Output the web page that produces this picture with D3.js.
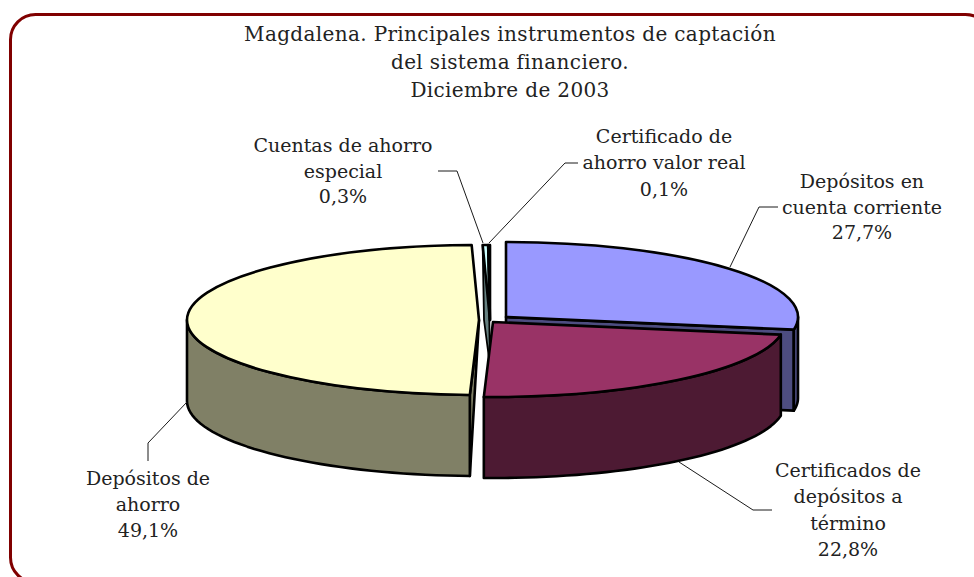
<!DOCTYPE html>
<html>
<head>
<meta charset="utf-8">
<script src="https://cdn.jsdelivr.net/npm/d3@7"></script>
<style>
  body { margin: 0; background: #fff; }
  svg { display: block; }
  text { font-family: "DejaVu Serif", serif; font-size: 19px; fill: #222; text-anchor: middle; }
  .title { font-size: 20px; letter-spacing: 0.35px; }
</style>
</head>
<body>
<div id="chart"></div>
<script>
var titleLines = ["Magdalena. Principales instrumentos de captación", "del sistema financiero.", "Diciembre de 2003"];
var categories = [
  ["Depósitos en", "cuenta corriente"],
  ["Certificados de", "depósitos a", "término"],
  ["Depósitos de", "ahorro"],
  ["Cuentas de ahorro", "especial"],
  ["Certificado de", "ahorro valor real"]
];
var shares = [27.7, 22.8, 49.1, 0.3, 0.1];
var shareLabels = ["27,7%", "22,8%", "49,1%", "0,3%", "0,1%"];
var topColors = ["#9999ff", "#993366", "#ffffcc", "#ccffff", "#660066"];
var sideColors = ["#4d4d80", "#4d1a33", "#808066", "#668080", "#330033"];

var width = 974;
var height = 577;
var rx = 292;
var ry = 75;
var depth = 81;

// exploded centre of each slice, and how far its cut face reaches down
var layout = [
  {cx: 506, cy: 317},
  {cx: 493, cy: 322},
  {cx: 479, cy: 320},
  {cx: 490, cy: 320, cut: 46, inset: 6},
  {cx: 490, cy: 320, cut: 0}
];

var labels = [
  {x: 862, y: 188, dy: 25.5, leader: [[778, 207], [759, 207], [730, 267]]},
  {x: 848, y: 477, dy: 26.3, leader: [[772, 510], [753, 510], [679, 462]]},
  {x: 148, y: 485, dy: 26, leader: [[148, 461], [148, 443], [187, 402]]},
  {x: 343, y: 152, dy: 25.7, leader: [[438, 171], [457, 171], [483, 243]]},
  {x: 664, y: 143, dy: 26.3, leader: [[578, 163], [565, 163], [489, 243]]}
];

var svg = d3.select("#chart").append("svg")
  .attr("width", width)
  .attr("height", height);

svg.append("rect")
  .attr("x", 10.5)
  .attr("y", 14.5)
  .attr("width", 980)
  .attr("height", 568)
  .attr("rx", 25)
  .attr("fill", "#fff")
  .attr("stroke", "#800000")
  .attr("stroke-width", 3);

svg.selectAll(".title")
  .data(titleLines)
  .enter().append("text")
  .attr("class", "title")
  .attr("x", 510)
  .attr("y", function (d, i) { return 41 + i * 28; })
  .text(function (d) { return d; });

var slices = d3.pie().sort(null).value(function (d) { return d; })(shares);

var arc = d3.arc().innerRadius(0).outerRadius(rx);
var line = d3.line();

function project(i, angle, down) {
  return [
    layout[i].cx + rx * Math.sin(angle),
    layout[i].cy - ry * Math.cos(angle) + (down || 0)
  ];
}

// outer wall between two angles, only the part facing the viewer
function wallPath(i, a0, a1) {
  var from = Math.max(a0, Math.PI / 2);
  var to = Math.min(a1, 3 * Math.PI / 2);
  if (to <= from) return null;
  var angles = d3.range(0, 41).map(function (k) { return from + (to - from) * k / 40; });
  var upper = angles.map(function (a) { return project(i, a, 0); });
  var lower = angles.slice().reverse().map(function (a) { return project(i, a, depth); });
  return line(upper.concat(lower)) + "Z";
}

function drawSlice(i) {
  var s = slices[i];
  var g = svg.append("g")
    .attr("stroke", "#000")
    .attr("stroke-width", 2.6)
    .attr("stroke-linejoin", "round");
  var apex = [layout[i].cx, layout[i].cy];

  if (i === 0) {
    g.append("path")
      .attr("d", line([apex, project(i, s.endAngle), project(i, s.endAngle, depth), [apex[0], apex[1] + depth]]) + "Z")
      .attr("fill", sideColors[i]);
  }
  if (i === 2) {
    g.append("path")
      .attr("d", line([apex, project(i, s.startAngle), project(i, s.startAngle, depth)]) + "Z")
      .attr("fill", sideColors[i]);
  }
  if (layout[i].cut) {
    // thin slice: narrow sliver of the cut face running down past the centre
    g.append("path")
      .attr("d", line([
        project(i, s.startAngle),
        project(i, s.endAngle),
        [apex[0], apex[1] + layout[i].cut],
        [apex[0] - layout[i].inset, apex[1]]
      ]) + "Z")
      .attr("fill", sideColors[i])
      .attr("stroke-width", 1.8);
  }
  var wall = wallPath(i, s.startAngle, s.endAngle);
  if (wall) {
    g.append("path").attr("d", wall).attr("fill", sideColors[i]);
  }
  g.append("path")
    .attr("d", arc({startAngle: s.startAngle, endAngle: s.endAngle}))
    .attr("transform", "translate(" + apex + ") scale(1," + (ry / rx) + ")")
    .attr("vector-effect", "non-scaling-stroke")
    .attr("fill", topColors[i]);
}

[3, 4, 0, 2, 1].forEach(drawSlice);

svg.selectAll(".leader")
  .data(labels)
  .enter().append("path")
  .attr("class", "leader")
  .attr("d", function (d) { return line(d.leader); })
  .attr("fill", "none")
  .attr("stroke", "#1a1a1a")
  .attr("stroke-width", 1);

labels.forEach(function (d, i) {
  var rows = categories[i].concat([shareLabels[i]]);
  svg.selectAll(".label" + i)
    .data(rows)
    .enter().append("text")
    .attr("class", "label" + i)
    .attr("x", d.x)
    .attr("y", function (r, k) { return d.y + k * d.dy; })
    .text(function (r) { return r; });
});
</script>
</body>
</html>
